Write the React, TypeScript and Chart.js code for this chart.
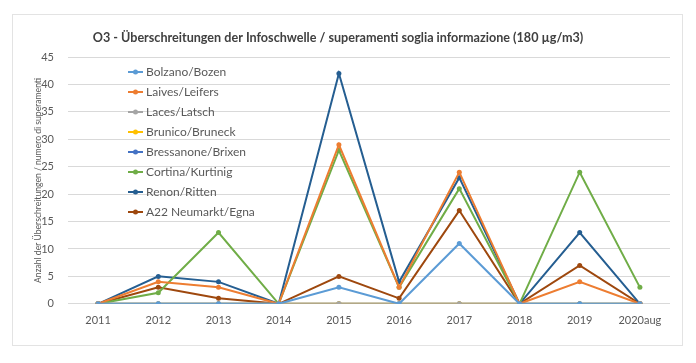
import React, { useEffect, useRef } from "react";
import { Chart, registerables } from "chart.js";

Chart.register(...registerables);

const chartTitle = "O3 - Überschreitungen der Infoschwelle / superamenti soglia informazione (180 µg/m3)";
const yAxisTitle = "Anzahl der Überschreitungen / numero di superamenti";
const categories = ["2011", "2012", "2013", "2014", "2015", "2016", "2017", "2018", "2019", "2020aug"];
const bolzano = [0, 0, 0, 0, 3, 0, 11, 0, 0, 0];
const laives = [0, 4, 3, 0, 29, 3, 24, 0, 4, 0];
const laces = [0, 0, 0, 0, 0, 0, 0, 0, 0, 0];
const brunico = [0, 0, 0, 0, 0, 0, 0, 0, 0, 0];
const bressanone = [0, 0, 0, 0, 0, 0, 0, 0, 0, 0];
const cortina = [0, 2, 13, 0, 28, 3, 21, 0, 24, 3];
const renon = [0, 5, 4, 0, 42, 4, 23, 0, 13, 0];
const a22 = [0, 3, 1, 0, 5, 1, 17, 0, 7, 0];
const seriesNames = [
  "Bolzano/Bozen",
  "Laives/Leifers",
  "Laces/Latsch",
  "Brunico/Bruneck",
  "Bressanone/Brixen",
  "Cortina/Kurtinig",
  "Renon/Ritten",
  "A22 Neumarkt/Egna",
];
const seriesValues = [bolzano, laives, laces, brunico, bressanone, cortina, renon, a22];
const seriesColors = ["#5B9BD5", "#ED7D31", "#A5A5A5", "#FFC000", "#4472C4", "#70AD47", "#255E91", "#9E480E"];
const yTicks = [0, 5, 10, 15, 20, 25, 30, 35, 40, 45];

const FONT = "Lato, 'Open Sans', sans-serif";

const frameTitleLegend = {
  id: "frameTitleLegend",
  beforeDraw(chart: any) {
    const ctx = chart.ctx;
    ctx.save();
    ctx.fillStyle = "#ffffff";
    ctx.fillRect(0, 0, chart.width, chart.height);
    ctx.strokeStyle = "#E3E3E3";
    ctx.lineWidth = 1;
    ctx.strokeRect(12.5, 14.5, 670, 331);
    ctx.restore();
  },
  afterDraw(chart: any) {
    const ctx = chart.ctx;
    const area = chart.chartArea;
    ctx.save();
    // title
    ctx.font = `bold 12.6px ${FONT}`;
    ctx.fillStyle = "#404040";
    ctx.textAlign = "center";
    ctx.textBaseline = "middle";
    ctx.fillText(chartTitle, area.left + 270, area.top - 19);
    // legend
    const x0 = area.left + 60;
    const y0 = area.top + 15;
    ctx.textAlign = "left";
    ctx.font = `12px ${FONT}`;
    chart.data.datasets.forEach((ds: any, i: number) => {
      const y = y0 + i * 20;
      ctx.strokeStyle = ds.borderColor;
      ctx.lineWidth = 2;
      ctx.beginPath();
      ctx.moveTo(x0, y);
      ctx.lineTo(x0 + 15, y);
      ctx.stroke();
      ctx.fillStyle = ds.borderColor;
      ctx.beginPath();
      ctx.arc(x0 + 7.5, y, 2.5, 0, Math.PI * 2);
      ctx.fill();
      ctx.fillStyle = "#595959";
      ctx.fillText(ds.label, x0 + 18, y + 0.5);
    });
    ctx.restore();
  },
};

export default function App() {
  const ref = useRef<HTMLCanvasElement | null>(null);
  useEffect(() => {
    document.body.style.margin = "0";
    const canvas = ref.current;
    if (!canvas) return;
    const chart = new Chart(canvas, {
      type: "line",
      data: {
        labels: categories,
        datasets: seriesNames.map((name, i) => ({
          label: name,
          data: seriesValues[i],
          borderColor: seriesColors[i],
          backgroundColor: seriesColors[i],
          borderWidth: 2,
          pointRadius: 2.5,
          pointBorderWidth: 0,
          pointHoverRadius: 3,
          tension: 0,
          fill: false,
        })),
      },
      options: {
        animation: false,
        responsive: false,
        maintainAspectRatio: false,
        layout: { padding: { left: 33, right: 26, top: 57, bottom: 26 } },
        plugins: {
          legend: { display: false },
          tooltip: { enabled: false },
          title: { display: false },
        },
        scales: {
          x: {
            offset: true,
            grid: { display: false, drawTicks: false },
            border: { display: false },
            ticks: { color: "#595959", font: { family: FONT, size: 11 }, padding: 10, maxRotation: 0, autoSkip: false },
          },
          y: {
            min: 0,
            max: 45,
            afterBuildTicks: (scale: any) => {
              scale.ticks = yTicks.map((v) => ({ value: v }));
            },
            afterFit: (scale: any) => {
              scale.width = 35;
            },
            grid: { color: "#D9D9D9", lineWidth: 1, drawTicks: false },
            border: { display: false },
            ticks: { color: "#595959", font: { family: FONT, size: 11 }, padding: 14 },
            title: {
              display: true,
              text: yAxisTitle,
              color: "#595959",
              font: { family: FONT, size: 8.6 },
              padding: 0,
            },
          },
        },
      },
      plugins: [frameTitleLegend],
    });
    return () => chart.destroy();
  }, []);
  return <canvas ref={ref} width={696} height={363} style={{ display: "block" }} />;
}
